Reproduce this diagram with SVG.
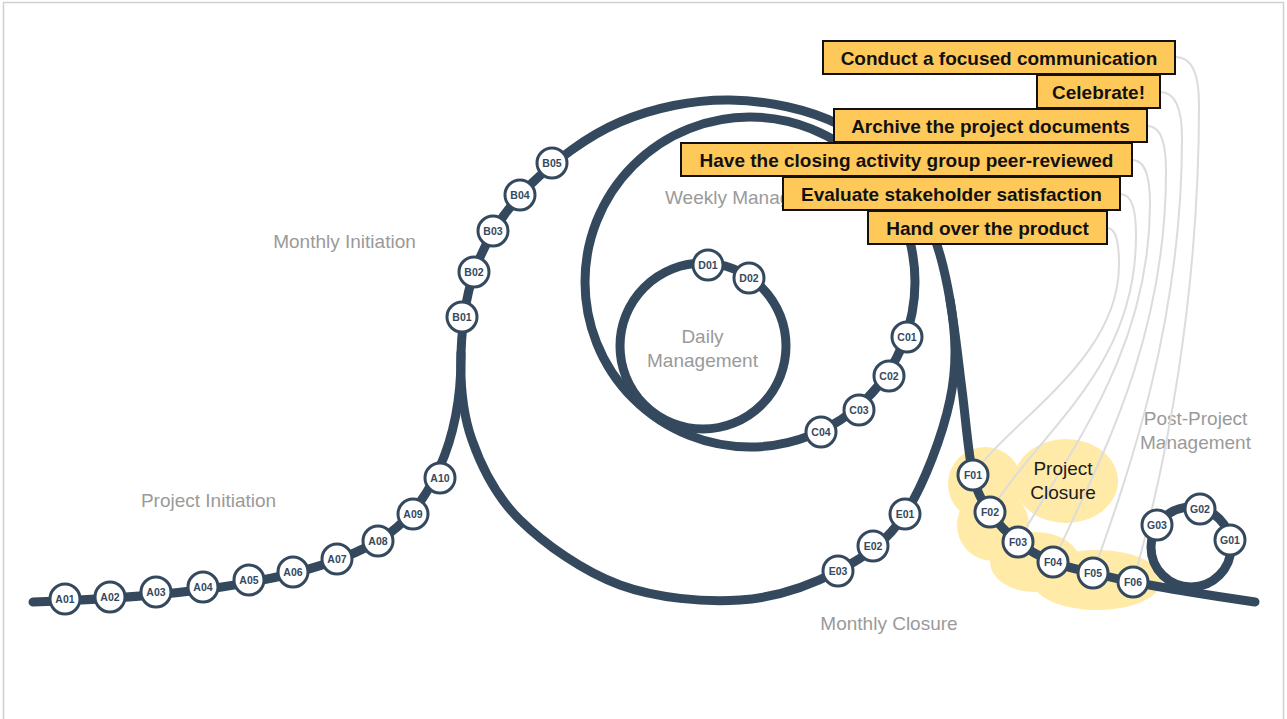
<svg xmlns="http://www.w3.org/2000/svg" width="1287" height="719" viewBox="0 0 1287 719">
<style>
.track{fill:none;stroke:#34495e;stroke-width:9;stroke-linecap:round;stroke-linejoin:round}
.conn{fill:none;stroke:#dcdcdc;stroke-width:2}
.blob{fill:#FFEAA8}
.node circle{fill:#fff;stroke:#34495e;stroke-width:3}
.node text{font-family:"Liberation Sans",Arial,sans-serif;font-weight:bold;font-size:10.5px;fill:#34495e;text-anchor:middle}
.lbl{font-family:"Liberation Sans",Arial,sans-serif;font-size:19px;fill:#9a9a9a;text-anchor:middle}
.lbl.dark{fill:#1a1a1a}
.box rect{fill:#FFC95A;stroke:#111;stroke-width:2}
.box text{font-family:"Liberation Sans",Arial,sans-serif;font-weight:bold;font-size:19px;fill:#111;text-anchor:middle}
</style>
<rect x="3.5" y="2.5" width="1280" height="730" fill="#fff" stroke="#d0d0d0" stroke-width="1.5"/>

<g id="closure-highlight">
<circle class="blob" cx="985" cy="484" r="37"/>
<ellipse class="blob" cx="1066" cy="481" rx="52" ry="42"/>
<circle class="blob" cx="993" cy="525" r="36"/>
<ellipse class="blob" cx="1035" cy="562" rx="45" ry="30"/>
<ellipse class="blob" cx="1097" cy="580" rx="65" ry="30"/>
</g>

<g id="labels">
<text class="lbl" x="344.5" y="247.5">Monthly Initiation</text>
<text class="lbl" x="208.5" y="506.5">Project Initiation</text>
<text class="lbl" x="665" y="203.5" style="text-anchor:start">Weekly Management</text>
<text class="lbl" x="702.5" y="342.5">Daily</text>
<text class="lbl" x="702.5" y="366.5">Management</text>
<text class="lbl" x="889" y="629.5">Monthly Closure</text>
<text class="lbl" x="1195.5" y="424.5">Post-Project</text>
<text class="lbl" x="1195.5" y="448.5">Management</text>
</g>

<g id="connectors">
<g id="links">
<path class="conn" d="M1175,57 C1193,57 1199,75 1199,105 C1199,300 1165,470 1133,582"/>
<path class="conn" d="M1160,92 C1176,92 1182,110 1182,138 C1182,320 1130,470 1093,573"/>
<path class="conn" d="M1147,126 C1162,126 1166,145 1166,172 C1166,340 1100,460 1053,562"/>
<path class="conn" d="M1132,160 C1146,160 1150,178 1150,204 C1150,350 1070,450 1018,542"/>
<path class="conn" d="M1120,194 C1133,194 1136,212 1136,236 C1136,370 1040,430 990,512"/>
<path class="conn" d="M1107,228 C1117,228 1119,245 1119,265 C1119,360 1010,420 973,475"/>
</g>
<g id="track">
<path id="path-initiation" class="track" d="M33,602 C150,598 300,587 378,541 C430,510 462,440 461,353"/>
<path id="loop-monthly" class="track" d="M461,353 C462,323.3 466.5,290 478,262 C489.5,234 506.3,208.3 530,185 C553.7,161.7 586.7,136.2 620,122 C653.3,107.8 693.3,99.5 730,100 C766.7,100.5 809.2,109.2 840,125 C870.8,140.8 896.7,165.8 915,195 C933.3,224.2 944.2,265.8 950,300 C955.8,334.2 957.5,364.3 950,400 C942.5,435.7 923.7,485.5 905,514 C886.3,542.5 865.5,556.7 838,571 C810.5,585.3 776.3,597.7 740,600 C703.7,602.3 656.7,598.3 620,585 C583.3,571.7 544.7,544.2 520,520 C495.3,495.8 481.8,467.8 472,440 C462.2,412.2 460,382.7 461,353 Z"/>
<circle id="loop-weekly" class="track" cx="750" cy="282" r="165"/>
<circle id="loop-daily" class="track" cx="703" cy="346" r="83"/>
<path id="path-closure" class="track" d="M950,300 C955.8,334.2 958.2,360.8 962,390 C965.8,419.2 968.3,454.7 973,475 C977.7,495.3 982.5,500.8 990,512 C997.5,523.2 1007.5,533.7 1018,542 C1028.5,550.3 1040.5,556.8 1053,562 C1065.5,567.2 1079.7,569.7 1093,573 C1106.3,576.3 1116.8,578.8 1133,582 C1149.2,585.2 1169.7,588.7 1190,592 C1210.3,595.3 1236.7,599.2 1255,602"/>
<circle id="loop-post" class="track" cx="1191" cy="547" r="40"/>
</g>
</g>

<text class="lbl dark" x="1063" y="474.5">Project</text>
<text class="lbl dark" x="1063" y="498.5">Closure</text>

<g id="A01" class="node"><circle cx="65" cy="599" r="15"/><text x="65" y="602.7">A01</text></g>
<g id="A02" class="node"><circle cx="110" cy="597" r="15"/><text x="110" y="600.7">A02</text></g>
<g id="A03" class="node"><circle cx="156" cy="592" r="15"/><text x="156" y="595.7">A03</text></g>
<g id="A04" class="node"><circle cx="203" cy="587" r="15"/><text x="203" y="590.7">A04</text></g>
<g id="A05" class="node"><circle cx="249" cy="580" r="15"/><text x="249" y="583.7">A05</text></g>
<g id="A06" class="node"><circle cx="293" cy="572" r="15"/><text x="293" y="575.7">A06</text></g>
<g id="A07" class="node"><circle cx="337" cy="559" r="15"/><text x="337" y="562.7">A07</text></g>
<g id="A08" class="node"><circle cx="378" cy="541" r="15"/><text x="378" y="544.7">A08</text></g>
<g id="A09" class="node"><circle cx="413" cy="514" r="15"/><text x="413" y="517.7">A09</text></g>
<g id="A10" class="node"><circle cx="440" cy="478" r="15"/><text x="440" y="481.7">A10</text></g>
<g id="B01" class="node"><circle cx="462" cy="317" r="15"/><text x="462" y="320.7">B01</text></g>
<g id="B02" class="node"><circle cx="474" cy="272" r="15"/><text x="474" y="275.7">B02</text></g>
<g id="B03" class="node"><circle cx="493" cy="231" r="15"/><text x="493" y="234.7">B03</text></g>
<g id="B04" class="node"><circle cx="520" cy="195" r="15"/><text x="520" y="198.7">B04</text></g>
<g id="B05" class="node"><circle cx="552" cy="163" r="15"/><text x="552" y="166.7">B05</text></g>
<g id="C01" class="node"><circle cx="907" cy="337" r="15"/><text x="907" y="340.7">C01</text></g>
<g id="C02" class="node"><circle cx="889" cy="376" r="15"/><text x="889" y="379.7">C02</text></g>
<g id="C03" class="node"><circle cx="859" cy="410" r="15"/><text x="859" y="413.7">C03</text></g>
<g id="C04" class="node"><circle cx="821" cy="432" r="15"/><text x="821" y="435.7">C04</text></g>
<g id="D01" class="node"><circle cx="708" cy="265" r="15"/><text x="708" y="268.7">D01</text></g>
<g id="D02" class="node"><circle cx="749" cy="278" r="15"/><text x="749" y="281.7">D02</text></g>
<g id="E01" class="node"><circle cx="905" cy="514" r="15"/><text x="905" y="517.7">E01</text></g>
<g id="E02" class="node"><circle cx="873" cy="546" r="15"/><text x="873" y="549.7">E02</text></g>
<g id="E03" class="node"><circle cx="838" cy="571" r="15"/><text x="838" y="574.7">E03</text></g>
<g id="F01" class="node"><circle cx="973" cy="475" r="15"/><text x="973" y="478.7">F01</text></g>
<g id="F02" class="node"><circle cx="990" cy="512" r="15"/><text x="990" y="515.7">F02</text></g>
<g id="F03" class="node"><circle cx="1018" cy="542" r="15"/><text x="1018" y="545.7">F03</text></g>
<g id="F04" class="node"><circle cx="1053" cy="562" r="15"/><text x="1053" y="565.7">F04</text></g>
<g id="F05" class="node"><circle cx="1093" cy="573" r="15"/><text x="1093" y="576.7">F05</text></g>
<g id="F06" class="node"><circle cx="1133" cy="582" r="15"/><text x="1133" y="585.7">F06</text></g>
<g id="G01" class="node"><circle cx="1230" cy="540" r="15"/><text x="1230" y="543.7">G01</text></g>
<g id="G02" class="node"><circle cx="1200" cy="509" r="15"/><text x="1200" y="512.7">G02</text></g>
<g id="G03" class="node"><circle cx="1157" cy="525" r="15"/><text x="1157" y="528.7">G03</text></g>

<g id="box-conduct" class="box"><rect x="823" y="41" width="352" height="33"/><text x="999" y="64.5">Conduct a focused communication</text></g>
<g id="box-celebrate" class="box"><rect x="1037" y="75" width="123" height="33"/><text x="1098.5" y="98.5">Celebrate!</text></g>
<g id="box-archive" class="box"><rect x="834" y="109" width="313" height="33"/><text x="990.5" y="132.5">Archive the project documents</text></g>
<g id="box-peer" class="box"><rect x="681" y="143" width="451" height="33"/><text x="906.5" y="166.5">Have the closing activity group peer-reviewed</text></g>
<g id="box-evaluate" class="box"><rect x="783" y="177" width="337" height="33"/><text x="951.5" y="200.5">Evaluate stakeholder satisfaction</text></g>
<g id="box-handover" class="box"><rect x="868" y="211" width="239" height="33"/><text x="987.5" y="234.5">Hand over the product</text></g>
</svg>
